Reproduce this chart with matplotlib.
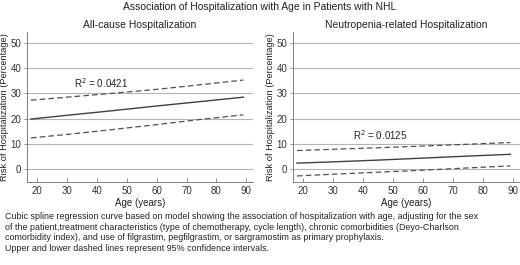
import matplotlib
matplotlib.use('Agg')
import matplotlib.pyplot as plt

plt.rcParams['font.family'] = ['Liberation Sans', 'DejaVu Sans']

ages = [18, 30, 45, 60, 75, 89]

allcause_fit = [19.8, 21.3, 23.1, 25.0, 26.8, 28.5]
allcause_upper = [27.3, 28.5, 30.0, 31.6, 33.5, 35.3]
allcause_lower = [12.3, 13.7, 15.6, 17.6, 19.7, 21.5]

neutro_fit = [2.3, 2.8, 3.5, 4.3, 5.1, 5.8]
neutro_upper = [7.3, 7.8, 8.4, 9.1, 9.8, 10.5]
neutro_lower = [-2.8, -2.1, -1.3, -0.5, 0.4, 1.2]

x_ticks = [20, 30, 40, 50, 60, 70, 80, 90]
y_ticks = [0, 10, 20, 30, 40, 50]

W, H = 520, 265
fig = plt.figure(figsize=(W / 100, H / 100), dpi=100)


def px_axes(x0, y0, x1, y1):
    # pixel box (top-left origin) -> figure fractions
    return fig.add_axes([x0 / W, 1 - y1 / H, (x1 - x0) / W, (y1 - y0) / H])


def draw_panel(ax, fit, upper, lower, subtitle, r2_text, r2_pos):
    ax.set_xlim(16.67, 92.2)
    ax.set_ylim(-5.2, 54.4)
    for y in y_ticks:
        ax.axhline(y, color='#b4b4b4', lw=0.8, zorder=1)
    ax.plot(ages, fit, color='#404040', lw=1.0, zorder=3)
    ax.plot(ages, upper, color='#505050', lw=0.9, ls=(0, (4.5, 2.5)), zorder=3)
    ax.plot(ages, lower, color='#505050', lw=0.9, ls=(0, (4.5, 2.5)), zorder=3)
    ax.set_xticks(x_ticks)
    ax.set_yticks(y_ticks)
    ax.tick_params(axis='x', direction='in', length=3, width=0.6, colors='#808080',
                   labelcolor='#333333', labelsize=7, pad=3)
    ax.tick_params(axis='y', direction='out', length=2, width=0.6, colors='#808080',
                   labelcolor='#333333', labelsize=7, pad=2)
    for side in ['top', 'right']:
        ax.spines[side].set_visible(False)
    for side in ['left', 'bottom']:
        ax.spines[side].set_color('#808080')
        ax.spines[side].set_linewidth(0.7)
    ax.set_xlabel('Age (years)', fontsize=7, color='#222222', labelpad=1)
    ax.set_ylabel('Risk of Hospitalization (Percentage)', fontsize=6.7, color='#222222', labelpad=1)
    ax.set_title(subtitle, fontsize=7.5, color='#222222', pad=3)
    ax.text(r2_pos[0], r2_pos[1], r2_text, fontsize=7, color='#222222', va='center')


ax1 = px_axes(27, 32, 253, 182)
draw_panel(ax1, allcause_fit, allcause_upper, allcause_lower,
           'All-cause Hospitalization', 'R$^2$ = 0.0421', (32.5, 34))

ax2 = px_axes(293, 32, 520, 182)
draw_panel(ax2, neutro_fit, neutro_upper, neutro_lower,
           'Neutropenia-related Hospitalization', 'R$^2$ = 0.0125', (36.5, 13.5))

fig.text(0.5, 1 - 7 / H, 'Association of Hospitalization with Age in Patients with NHL',
         ha='center', va='center', fontsize=7.5, color='#222222')

caption = ('Cubic spline regression curve based on model showing the association of hospitalization with age, adjusting for the sex\n'
           'of the patient,treatment characteristics (type of chemotherapy, cycle length), chronic comorbidities (Deyo-Charlson\n'
           'comorbidity index), and use of filgrastim, pegfilgrastim, or sargramostim as primary prophylaxis.\n'
           'Upper and lower dashed lines represent 95% confidence intervals.')
fig.text(5 / W, 1 - 212 / H, caption, ha='left', va='top', fontsize=6.4,
         color='#222222', linespacing=1.25)

fig.savefig('out.png', dpi=100)
